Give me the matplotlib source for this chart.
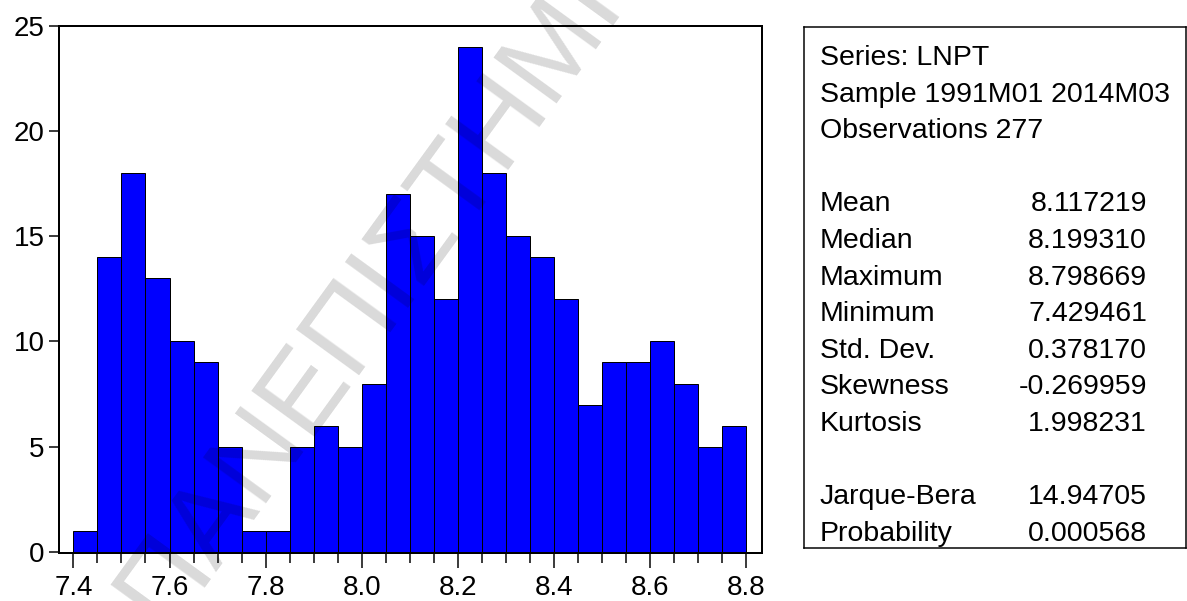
import matplotlib
matplotlib.use("Agg")
import matplotlib.pyplot as plt
import numpy as np

plt.rcParams['font.family'] = ['Liberation Sans', 'DejaVu Sans']

# histogram of LNPT, bins of width 0.05 from 7.40 to 8.80
bin_left = 7.40
bin_width = 0.05
counts = [1, 14, 18, 13, 10, 9, 5, 1, 1, 5, 6, 5, 8, 17,
          15, 12, 24, 18, 15, 14, 12, 7, 9, 9, 10, 8, 5, 6]

stat_names = ["Mean", "Median", "Maximum", "Minimum", "Std. Dev.",
              "Skewness", "Kurtosis"]
stat_values = ["8.117219", "8.199310", "8.798669", "7.429461", "0.378170",
               "-0.269959", "1.998231"]
test_names = ["Jarque-Bera", "Probability"]
test_values = ["14.94705", "0.000568"]
header = ["Series: LNPT", "Sample 1991M01 2014M03", "Observations 277"]

W, H = 1187, 601
PT = 0.72  # points per pixel at dpi 100
fig = plt.figure(figsize=(W / 100, H / 100), dpi=100)

# main axes (pixel positions converted to figure fractions)
ax = fig.add_axes([59 / W, 1 - 553 / H, (762 - 59) / W, (553 - 26) / H])
edges = bin_left + bin_width * np.arange(len(counts))
ax.bar(edges, counts, width=bin_width, align='edge', color='#0000ff',
       edgecolor='black', linewidth=1.0 * PT, zorder=2)

ax.set_xlim(7.370, 8.833)
ax.set_ylim(-0.06, 25)
ax.set_xticks(np.arange(7.4, 8.81, 0.2))
ax.set_xticklabels([f"{v:.1f}" for v in np.arange(7.4, 8.81, 0.2)])
ax.set_xticks(bin_left + bin_width * np.arange(len(counts) + 1), minor=True)
ax.set_yticks([0, 5, 10, 15, 20, 25])
for s in ax.spines.values():
    s.set_linewidth(2 * PT)
ax.tick_params(axis='both', which='major', labelsize=20, width=1.5 * PT,
               direction='out', color='black')
ax.tick_params(axis='x', which='major', length=15 * PT, pad=5)
ax.tick_params(axis='x', which='minor', length=10 * PT, width=1.5 * PT)
ax.tick_params(axis='y', which='major', length=10 * PT, pad=3)

# statistics box
bx = fig.add_axes([804 / W, 1 - 548 / H, (1186 - 804) / W, (548 - 27) / H])
bx.set_xticks([])
bx.set_yticks([])
for s in bx.spines.values():
    s.set_linewidth(1.5 * PT)
bx.set_xlim(0, 1186 - 804)
bx.set_ylim(548 - 27, 0)

line_h = 36.6
y0 = 65 - 27
lines = [(h, "") for h in header] + [("", "")] + \
        list(zip(stat_names, stat_values)) + [("", "")] + \
        list(zip(test_names, test_values))
for i, (name, val) in enumerate(lines):
    y = y0 + i * line_h
    if name:
        bx.text(820 - 804, y, name, fontsize=20.5, va='baseline', ha='left')
    if val:
        bx.text(1147 - 804, y, val, fontsize=20.5, va='baseline', ha='right')

# watermark
fig.text(165 / W, 1 - 630 / H, "ΠΑΝΕΠΙΣΤΗΜΙΟ", fontsize=82, color='black',
         alpha=0.15, rotation=54, rotation_mode='anchor', ha='left',
         va='baseline', zorder=10)

fig.savefig("out.png", dpi=100)
